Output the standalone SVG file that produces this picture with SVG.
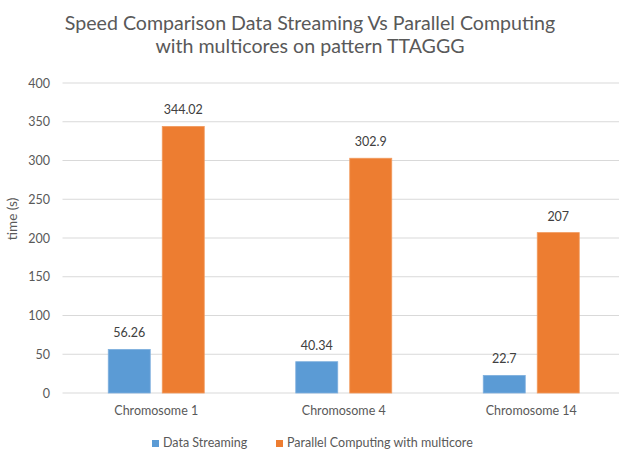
<svg xmlns="http://www.w3.org/2000/svg" width="619" height="452" viewBox="0 0 619 452">
<style>
text{font-family:Lato,"Open Sans","Liberation Sans",sans-serif;}
.title{font-size:19.6px;fill:#595959;text-anchor:middle;}
.ytick{font-size:12.5px;fill:#595959;text-anchor:end;}
.cat{font-size:12.5px;fill:#595959;text-anchor:middle;}
.val{font-size:12.5px;fill:#404040;text-anchor:middle;}
.leg{font-size:12.5px;fill:#595959;}
.axt{font-size:13.5px;fill:#595959;text-anchor:middle;}
.grid{stroke:#D9D9D9;stroke-width:1.2;}
.ds{fill:#5B9BD5;stroke:#7FB0DE;stroke-width:0.8;}
.pc{fill:#ED7D31;stroke:#F29A5E;stroke-width:0.8;}
</style>
<rect width="619" height="452" fill="#FFFFFF"/>
<g id="title">
<text class="title" x="310" y="30">Speed Comparison Data Streaming Vs Parallel Computing</text>
<text class="title" x="310" y="53">with multicores on pattern TTAGGG</text>
</g>
<g id="gridlines">
<line class="grid" x1="62.5" y1="83" x2="619" y2="83"/>
<line class="grid" x1="62.5" y1="121.75" x2="619" y2="121.75"/>
<line class="grid" x1="62.5" y1="160.5" x2="619" y2="160.5"/>
<line class="grid" x1="62.5" y1="199.25" x2="619" y2="199.25"/>
<line class="grid" x1="62.5" y1="238" x2="619" y2="238"/>
<line class="grid" x1="62.5" y1="276.75" x2="619" y2="276.75"/>
<line class="grid" x1="62.5" y1="315.5" x2="619" y2="315.5"/>
<line class="grid" x1="62.5" y1="354.25" x2="619" y2="354.25"/>
<line class="grid" x1="62.5" y1="393" x2="619" y2="393"/>
</g>
<g id="y-axis">
<text class="ytick" x="50" y="87.5">400</text>
<text class="ytick" x="50" y="126.25">350</text>
<text class="ytick" x="50" y="165">300</text>
<text class="ytick" x="50" y="203.75">250</text>
<text class="ytick" x="50" y="242.5">200</text>
<text class="ytick" x="50" y="281.25">150</text>
<text class="ytick" x="50" y="320">100</text>
<text class="ytick" x="50" y="358.75">50</text>
<text class="ytick" x="50" y="397.5">0</text>
<text class="axt" x="0" y="0" transform="translate(17,219) rotate(-90)">time (s)</text>
</g>
<g id="chromosome-1">
<rect class="ds" x="108.25" y="349.4" width="42" height="43.6"/>
<rect class="pc" x="162.25" y="126.4" width="42" height="266.6"/>
<text class="val" x="129.25" y="337.4">56.26</text>
<text class="val" x="183.25" y="114.4">344.02</text>
<text class="cat" x="156.25" y="414.5">Chromosome 1</text>
</g>
<g id="chromosome-4">
<rect class="ds" x="295.75" y="361.7" width="42" height="31.3"/>
<rect class="pc" x="349.75" y="158.25" width="42" height="234.75"/>
<text class="val" x="316.75" y="349.7">40.34</text>
<text class="val" x="370.75" y="146.25">302.9</text>
<text class="cat" x="343.75" y="414.5">Chromosome 4</text>
</g>
<g id="chromosome-14">
<rect class="ds" x="483.25" y="375.4" width="42" height="17.6"/>
<rect class="pc" x="537.25" y="232.6" width="42" height="160.4"/>
<text class="val" x="504.25" y="363.4">22.7</text>
<text class="val" x="558.25" y="220.6">207</text>
<text class="cat" x="531.25" y="414.5">Chromosome 14</text>
</g>
<g id="legend">
<rect x="152" y="440" width="7" height="7" fill="#5B9BD5"/>
<text class="leg" x="163" y="447">Data Streaming</text>
<rect x="276" y="440" width="7" height="7" fill="#ED7D31"/>
<text class="leg" x="287" y="447">Parallel Computing with multicore</text>
</g>
</svg>
